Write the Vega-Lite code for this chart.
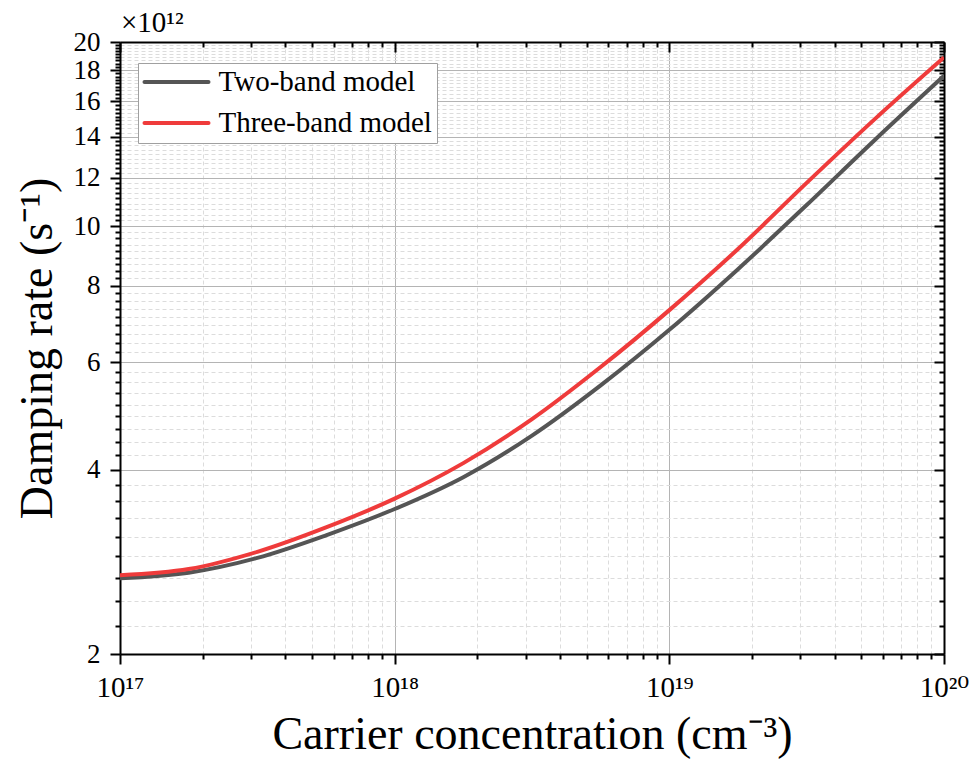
{
  "$schema": "https://vega.github.io/schema/vega-lite/v6.json",
  "width": 824,
  "height": 612,
  "autosize": {"type": "none"},
  "padding": {"left": 120, "top": 42, "right": 32, "bottom": 111},
  "background": "white",
  "config": {
    "font": "Liberation Serif",
    "view": {"stroke": null},
    "axis": {"labelFont": "Liberation Serif", "titleFont": "Liberation Serif", "labelColor": "black", "titleColor": "black", "titleFontWeight": "normal"}
  },
  "title": {"text": "×10¹²", "anchor": "start", "frame": "group", "fontSize": 29, "font": "Liberation Serif", "fontWeight": "normal", "color": "black", "offset": -10, "dx": 1},
  "data": {
    "values": [
      {"N": 1e17, "model": "Two-band model", "rate": 2.66},
      {"N": 1.778e17, "model": "Two-band model", "rate": 2.716},
      {"N": 3.162e17, "model": "Two-band model", "rate": 2.871},
      {"N": 5.623e17, "model": "Two-band model", "rate": 3.126},
      {"N": 1e18, "model": "Two-band model", "rate": 3.451},
      {"N": 1.778e18, "model": "Two-band model", "rate": 3.89},
      {"N": 3.162e18, "model": "Two-band model", "rate": 4.548},
      {"N": 5.623e18, "model": "Two-band model", "rate": 5.494},
      {"N": 1e19, "model": "Two-band model", "rate": 6.772},
      {"N": 1.778e19, "model": "Two-band model", "rate": 8.508},
      {"N": 3.162e19, "model": "Two-band model", "rate": 10.83},
      {"N": 5.623e19, "model": "Two-band model", "rate": 13.86},
      {"N": 1e20, "model": "Two-band model", "rate": 17.61},
      {"N": 1e17, "model": "Three-band model", "rate": 2.69},
      {"N": 1.778e17, "model": "Three-band model", "rate": 2.753},
      {"N": 3.162e17, "model": "Three-band model", "rate": 2.937},
      {"N": 5.623e17, "model": "Three-band model", "rate": 3.22},
      {"N": 1e18, "model": "Three-band model", "rate": 3.588},
      {"N": 1.778e18, "model": "Three-band model", "rate": 4.101},
      {"N": 3.162e18, "model": "Three-band model", "rate": 4.839},
      {"N": 5.623e18, "model": "Three-band model", "rate": 5.887},
      {"N": 1e19, "model": "Three-band model", "rate": 7.293},
      {"N": 1.778e19, "model": "Three-band model", "rate": 9.18},
      {"N": 3.162e19, "model": "Three-band model", "rate": 11.77},
      {"N": 5.623e19, "model": "Three-band model", "rate": 14.99},
      {"N": 1e20, "model": "Three-band model", "rate": 18.87}
    ]
  },
  "resolve": {"axis": {"x": "independent", "y": "independent"}},
  "layer": [
    {
      "mark": {"type": "line", "strokeWidth": 4, "interpolate": "monotone", "clip": true},
      "encoding": {
        "x": {
          "field": "N", "type": "quantitative",
          "scale": {"type": "log", "domain": [1e17, 1e20], "nice": false},
          "axis": {
            "orient": "bottom",
            "title": "Carrier concentration (cm⁻³)",
            "titleFontSize": 46, "titlePadding": 10,
            "values": [1e17, 2e17, 3e17, 4e17, 5e17, 6e17, 7e17, 8e17, 9e17, 1e18, 2e18, 3e18, 4e18, 5e18, 6e18, 7e18, 8e18, 9e18, 1e19, 2e19, 3e19, 4e19, 5e19, 6e19, 7e19, 8e19, 9e19, 1e20],
            "labelExpr": "abs(log(datum.value)/LN10 - round(log(datum.value)/LN10)) < 0.001 ? (round(log(datum.value)/LN10) == 17 ? '10¹⁷' : round(log(datum.value)/LN10) == 18 ? '10¹⁸' : round(log(datum.value)/LN10) == 19 ? '10¹⁹' : '10²⁰') : ''",
            "labelFont": "Liberation Serif, DejaVu Serif",
            "labelFontSize": 29, "labelPadding": 9, "labelFlush": false, "labelOverlap": false,
            "domainColor": "black", "domainWidth": 2,
            "tickColor": "black",
            "tickSize": {"condition": {"test": "abs(log(datum.value)/LN10 - round(log(datum.value)/LN10)) < 0.001", "value": 10}, "value": 5},
            "tickWidth": 2,
            "grid": true,
            "gridColor": {"condition": {"test": "abs(log(datum.value)/LN10 - round(log(datum.value)/LN10)) < 0.001", "value": "#b4b4b4"}, "value": "#dcdcdc"},
            "gridDash": {"condition": {"test": "abs(log(datum.value)/LN10 - round(log(datum.value)/LN10)) < 0.001", "value": []}, "value": [4, 3]},
            "gridWidth": 1
          }
        },
        "y": {
          "field": "rate", "type": "quantitative",
          "scale": {"type": "log", "domain": [2, 20], "nice": false},
          "axis": {
            "orient": "left",
            "title": "Damping rate (s⁻¹)",
            "titleFontSize": 46, "titlePadding": 12,
            "values": [2, 2.2222, 2.4444, 2.6667, 2.8889, 3.1111, 3.3333, 3.5556, 3.7778, 4, 4.2222, 4.4444, 4.6667, 4.8889, 5.1111, 5.3333, 5.5556, 5.7778, 6, 6.2222, 6.4444, 6.6667, 6.8889, 7.1111, 7.3333, 7.5556, 7.7778, 8, 8.2222, 8.4444, 8.6667, 8.8889, 9.1111, 9.3333, 9.5556, 9.7778, 10, 10.2222, 10.4444, 10.6667, 10.8889, 11.1111, 11.3333, 11.5556, 11.7778, 12, 12.2222, 12.4444, 12.6667, 12.8889, 13.1111, 13.3333, 13.5556, 13.7778, 14, 14.2222, 14.4444, 14.6667, 14.8889, 15.1111, 15.3333, 15.5556, 15.7778, 16, 16.2222, 16.4444, 16.6667, 16.8889, 17.1111, 17.3333, 17.5556, 17.7778, 18, 18.2222, 18.4444, 18.6667, 18.8889, 19.1111, 19.3333, 19.5556, 19.7778, 20],
            "labelExpr": "abs(datum.value/2 - round(datum.value/2)) < 0.01 ? toString(round(datum.value)) : ''",
            "labelFontSize": 27, "labelPadding": 10, "labelOverlap": false, "labelFlush": false,
            "domainColor": "black", "domainWidth": 2,
            "tickColor": "black",
            "tickSize": {"condition": {"test": "abs(datum.value/2 - round(datum.value/2)) < 0.01", "value": 10}, "value": 5},
            "tickWidth": 2,
            "grid": true,
            "gridColor": {"condition": {"test": "abs(datum.value/2 - round(datum.value/2)) < 0.01", "value": "#b4b4b4"}, "value": "#dcdcdc"},
            "gridDash": {"condition": {"test": "abs(datum.value/2 - round(datum.value/2)) < 0.01", "value": []}, "value": [4, 3]},
            "gridWidth": 1
          }
        },
        "color": {
          "field": "model", "type": "nominal",
          "scale": {"domain": ["Two-band model", "Three-band model"], "range": ["#555555", "#ef3b3b"]},
          "legend": {
            "title": null, "orient": "none", "legendX": 18, "legendY": 21,
            "fillColor": "white", "strokeColor": "#a0a0a0", "padding": 4.5,
            "symbolType": "M-2.56,0H2.56", "symbolSize": 625, "symbolStrokeWidth": 4, "symbolOffset": 19.5,
            "labelFont": "Liberation Serif", "labelFontSize": 29, "labelColor": "black",
            "labelOffset": 27.5, "rowPadding": 11, "labelLimit": 400,
            "encode": {"symbols": {"update": {"strokeCap": {"value": "round"}}}}
          }
        }
      }
    },
    {
      "mark": {"type": "line", "opacity": 0},
      "encoding": {
        "detail": {"field": "model"},
        "x": {
          "field": "N", "type": "quantitative",
          "axis": {
            "orient": "top", "title": null, "labels": false, "grid": false,
            "values": [1e17, 2e17, 3e17, 4e17, 5e17, 6e17, 7e17, 8e17, 9e17, 1e18, 2e18, 3e18, 4e18, 5e18, 6e18, 7e18, 8e18, 9e18, 1e19, 2e19, 3e19, 4e19, 5e19, 6e19, 7e19, 8e19, 9e19, 1e20],
            "domainColor": "black", "domainWidth": 2, "tickColor": "black", "tickWidth": 2,
            "tickSize": {"condition": {"test": "abs(log(datum.value)/LN10 - round(log(datum.value)/LN10)) < 0.001", "value": -10}, "value": -5}
          }
        },
        "y": {
          "field": "rate", "type": "quantitative",
          "axis": {
            "orient": "right", "title": null, "labels": false, "grid": false,
            "values": [2, 2.2222, 2.4444, 2.6667, 2.8889, 3.1111, 3.3333, 3.5556, 3.7778, 4, 4.2222, 4.4444, 4.6667, 4.8889, 5.1111, 5.3333, 5.5556, 5.7778, 6, 6.2222, 6.4444, 6.6667, 6.8889, 7.1111, 7.3333, 7.5556, 7.7778, 8, 8.2222, 8.4444, 8.6667, 8.8889, 9.1111, 9.3333, 9.5556, 9.7778, 10, 10.2222, 10.4444, 10.6667, 10.8889, 11.1111, 11.3333, 11.5556, 11.7778, 12, 12.2222, 12.4444, 12.6667, 12.8889, 13.1111, 13.3333, 13.5556, 13.7778, 14, 14.2222, 14.4444, 14.6667, 14.8889, 15.1111, 15.3333, 15.5556, 15.7778, 16, 16.2222, 16.4444, 16.6667, 16.8889, 17.1111, 17.3333, 17.5556, 17.7778, 18, 18.2222, 18.4444, 18.6667, 18.8889, 19.1111, 19.3333, 19.5556, 19.7778, 20],
            "domainColor": "black", "domainWidth": 2, "tickColor": "black", "tickWidth": 2,
            "tickSize": {"condition": {"test": "abs(datum.value/2 - round(datum.value/2)) < 0.01", "value": -10}, "value": -5}
          }
        }
      }
    }
  ]
}
